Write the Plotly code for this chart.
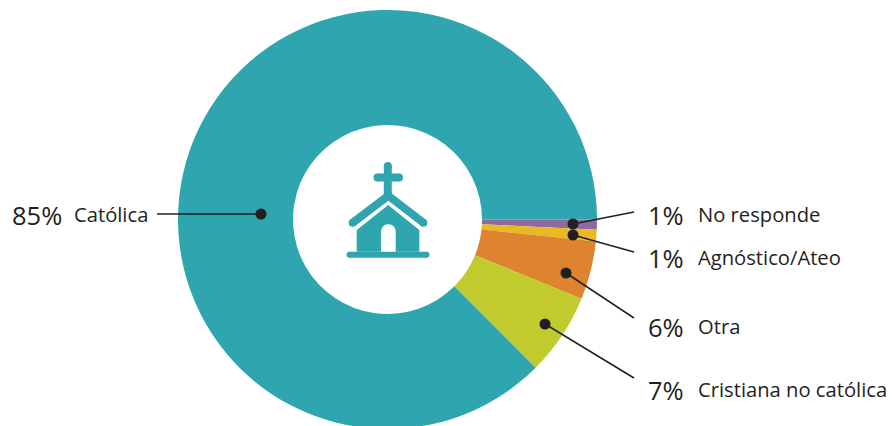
import plotly.graph_objects as go

W, H = 892, 430
CX_L, CX_R, CY_T, CY_B = 178, 597, 10, 429

categories = ["No responde", "Agnóstico/Ateo", "Otra", "Cristiana no católica", "Católica"]
drawn_values = [0.78, 0.89, 4.5, 6.33, 87.5]
percent_labels = ["1%", "1%", "6%", "7%", "85%"]
colors = ["#8f6a9f", "#e8b922", "#de842f", "#c1cb2e", "#2fa5b0"]
TEAL = "#2fa5b0"
INK = "#231f20"
FONT = "Open Sans"

# leader geometry in page pixels
leaders = [
    ((573, 224), (634, 212)),
    ((573, 235), (634, 252)),
    ((566, 273), (634, 318)),
    ((545, 324), (634, 378)),
    ((261, 214), (157, 214)),
]
label_rows = [215, 258, 327, 390, 215]


def px(x):
    return x / W


def py(y):
    return 1 - y / H


def path(points, close=True):
    s = "M" + " L".join(f"{px(x):.5f},{py(y):.5f}" for x, y in points)
    return s + (" Z" if close else "")


fig = go.Figure(
    go.Pie(
        labels=categories,
        values=drawn_values,
        sort=False,
        direction="clockwise",
        rotation=90,
        hole=94.5 / 209.5,
        marker=dict(colors=colors, line=dict(width=0)),
        textinfo="none",
        hoverinfo="label+percent",
        showlegend=False,
        domain=dict(x=[CX_L / W, CX_R / W], y=[py(CY_B), py(CY_T)]),
    )
)

shapes = []
annotations = []
for (start, end) in leaders:
    shapes.append(dict(type="line", xref="paper", yref="paper",
                       x0=px(start[0]), y0=py(start[1]), x1=px(end[0]), y1=py(end[1]),
                       line=dict(color=INK, width=1.5), layer="above"))
    r = 5.5
    shapes.append(dict(type="circle", xref="paper", yref="paper",
                       x0=px(start[0] - r), x1=px(start[0] + r),
                       y0=py(start[1] + r), y1=py(start[1] - r),
                       fillcolor=INK, line=dict(width=0), layer="above"))

pct_x = [648, 648, 648, 648, 12]
name_x = [698, 698, 698, 698, 74]
for i, cat in enumerate(categories):
    annotations.append(dict(x=px(pct_x[i]), y=py(label_rows[i]), xref="paper", yref="paper",
                            text=percent_labels[i], showarrow=False, xanchor="left", yanchor="middle",
                            xshift=-2, font=dict(family=FONT, size=25.5, color=INK)))
    annotations.append(dict(x=px(name_x[i]), y=py(label_rows[i] - 1), xref="paper", yref="paper",
                            text=cat, showarrow=False, xanchor="left", yanchor="middle",
                            xshift=-2, font=dict(family=FONT, size=20.2, color=INK)))

# church icon
icon = dict(type="path", xref="paper", yref="paper", layer="above")
roof = path([(352.7, 222.7), (388.2, 195.7), (423.3, 222.7)], close=False)
cross_v = path([(387.8, 166), (387.8, 196)], close=False)
cross_h = path([(377.5, 177.5), (399, 177.5)], close=False)
base = path([(349.5, 254.7), (426.5, 254.7)], close=False)
for d, w in [(roof, 8), (cross_v, 8), (cross_h, 8), (base, 6)]:
    shapes.append(dict(icon, path=d, line=dict(color=TEAL, width=w)))
    # rounded caps
    pts = d.replace("M", "").replace("L", "").split()
    for p in (pts[0], pts[-1]):
        x, y = map(float, p.split(","))
        rx, ry = (w / 2) / W, (w / 2) / H
        shapes.append(dict(type="circle", xref="paper", yref="paper", layer="above",
                           x0=x - rx, x1=x + rx, y0=y - ry, y1=y + ry,
                           fillcolor=TEAL, line=dict(width=0)))
body = (
    path([(356.7, 230), (388.2, 205), (419.3, 230), (419.3, 251.7), (356.7, 251.7)])
)
shapes.append(dict(icon, path=body, fillcolor=TEAL, line=dict(width=0)))
door = (
    f"M{px(381):.5f},{py(251.7):.5f} L{px(381):.5f},{py(232):.5f} "
    f"C{px(381):.5f},{py(221.5):.5f} {px(395.7):.5f},{py(221.5):.5f} {px(395.7):.5f},{py(232):.5f} "
    f"L{px(395.7):.5f},{py(251.7):.5f} Z"
)
shapes.append(dict(icon, path=door, fillcolor="white", line=dict(width=0)))

fig.update_layout(
    width=W, height=H,
    margin=dict(l=0, r=0, t=0, b=0),
    paper_bgcolor="white", plot_bgcolor="white",
    shapes=shapes, annotations=annotations,
    font=dict(family=FONT),
)
fig.write_html("out.html", config={"displayModeBar": False},
               post_script="document.body.style.margin='0';document.documentElement.style.overflow='hidden';")
